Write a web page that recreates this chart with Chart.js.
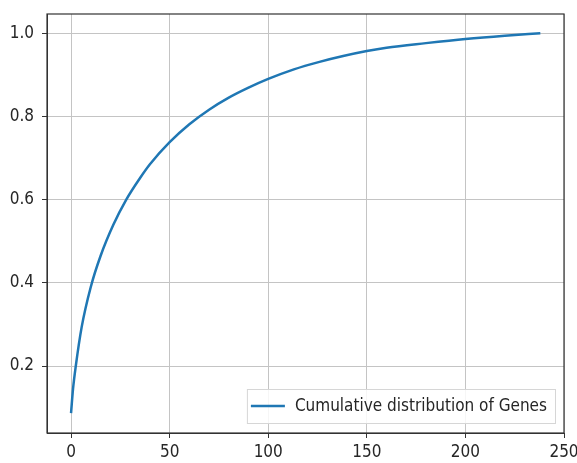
<!DOCTYPE html>
<html>
<head>
<meta charset="utf-8">
<script src="https://cdn.jsdelivr.net/npm/chart.js@4/dist/chart.umd.min.js"></script>
<style>
  html, body { margin: 0; padding: 0; background: #fff; }
  #wrap { width: 577px; height: 463px; }
</style>
</head>
<body>
<div id="wrap"><canvas id="chart"></canvas></div>
<script>
// cumulative share of genes vs. count
const xs = [0, 1, 2.4, 5.4, 10, 15, 21.5, 28, 35, 40, 50, 60, 70, 80, 90, 100, 113, 126, 138, 150, 160, 180, 200, 220, 238];
const ys = [0.087, 0.145, 0.20, 0.294, 0.39, 0.465, 0.54, 0.60, 0.652, 0.685, 0.738, 0.781, 0.816, 0.845, 0.869, 0.89, 0.913, 0.931, 0.945, 0.957, 0.965, 0.976, 0.986, 0.994, 1.0];
const xTicks = [0, 50, 100, 150, 200, 250];
const yTicks = [0.2, 0.4, 0.6, 0.8, 1.0];
const seriesLabel = 'Cumulative distribution of Genes';

const font = { family: "'DejaVu Sans Condensed', 'DejaVu Sans', sans-serif", size: 17 };

// frame + legend box inside the axes, matplotlib style
const framePlugin = {
  id: 'frame',
  afterDraw(chart) {
    const { ctx, chartArea: a } = chart;
    ctx.save();
    ctx.strokeStyle = '#333';
    ctx.lineWidth = 1.2;
    ctx.strokeRect(a.left, a.top, a.right - a.left, a.bottom - a.top);

    const ds = chart.data.datasets[0];
    ctx.font = `${font.size}px ${font.family}`;
    const tw = ctx.measureText(ds.label).width;
    const bw = tw + 56, bh = 34;
    const bx = a.right - 9 - bw, by = a.bottom - 10 - bh;
    ctx.fillStyle = 'rgba(255,255,255,0.85)';
    ctx.strokeStyle = '#d6d6d6';
    ctx.lineWidth = 1;
    ctx.fillRect(bx, by, bw, bh);
    ctx.strokeRect(bx + 0.5, by + 0.5, bw, bh);
    ctx.strokeStyle = ds.borderColor;
    ctx.lineWidth = 2.5;
    ctx.beginPath();
    ctx.moveTo(bx + 4, by + bh / 2);
    ctx.lineTo(bx + 38, by + bh / 2);
    ctx.stroke();
    ctx.fillStyle = '#262626';
    ctx.textBaseline = 'middle';
    ctx.fillText(ds.label, bx + 48, by + bh / 2 + 1);
    ctx.restore();
  }
};

new Chart(document.getElementById('chart'), {
  type: 'line',
  data: {
    datasets: [{
      label: seriesLabel,
      data: xs.map((x, i) => ({ x: x, y: ys[i] })),
      borderColor: '#1f77b4',
      borderWidth: 2.5,
      pointRadius: 0,
      fill: false,
      cubicInterpolationMode: 'monotone'
    }]
  },
  options: {
    responsive: true,
    maintainAspectRatio: false,
    animation: false,
    layout: { padding: { left: 0, right: 13, top: 14, bottom: 0 } },
    plugins: { legend: { display: false }, tooltip: { enabled: false } },
    scales: {
      x: {
        type: 'linear',
        min: -12.2,
        max: 250,
        afterBuildTicks: s => { s.ticks = xTicks.map(v => ({ value: v })); },
        afterFit: s => { s.height = 30; s.paddingLeft = 0; s.paddingRight = 0; },
        grid: { color: '#c4c4c4', tickColor: '#333', tickLength: 5 },
        border: { color: '#333' },
        ticks: { font: font, color: '#262626', padding: 4, maxRotation: 0 }
      },
      y: {
        min: 0.039,
        max: 1.046,
        afterBuildTicks: s => { s.ticks = yTicks.map(v => ({ value: v })); },
        afterFit: s => { s.width = 47; s.paddingTop = 0; s.paddingBottom = 0; },
        grid: { color: '#c4c4c4', tickColor: '#333', tickLength: 5 },
        border: { color: '#333' },
        ticks: { font: font, color: '#262626', padding: 8, callback: v => v.toFixed(1) }
      }
    }
  },
  plugins: [framePlugin]
});
</script>
</body>
</html>
